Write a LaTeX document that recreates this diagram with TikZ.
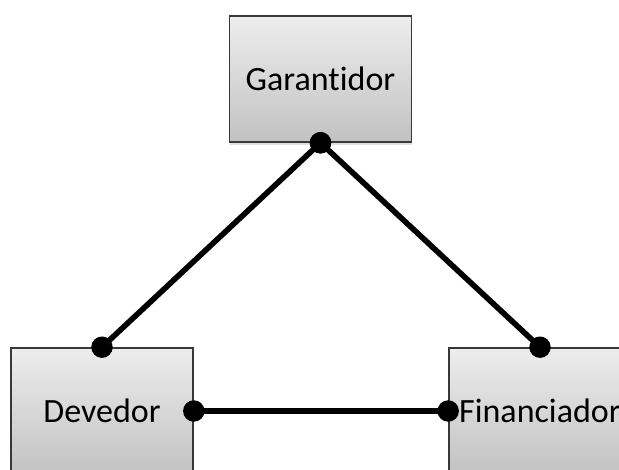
\documentclass[tikz,border=0pt]{standalone}
\usepackage{fontspec}
\setmainfont[Ligatures=NoCommon]{Carlito}
\usetikzlibrary{arrows.meta,shadows}
\definecolor{topo}{HTML}{EDEDED}
\definecolor{fundo}{HTML}{C2C2C2}
\definecolor{borda}{HTML}{383838}
\begin{document}
\begin{tikzpicture}[x=0.75pt,y=-0.75pt]
\tikzset{caixa/.style={draw=borda, line width=1.2pt, top color=topo, bottom color=fundo, minimum width=136.5pt, minimum height=94.5pt, inner sep=0pt, font=\fontsize{25.5}{30}\selectfont},
ligacao/.style={line width=4.2pt, {Circle[length=16pt]}-{Circle[length=16pt]}, shorten <=-8pt, shorten >=-8pt}}
\clip (0,0) rectangle (619,470);
\fill[white] (0,0) rectangle (619,470);
\node[caixa, drop shadow={opacity=0.25, shadow xshift=0pt, shadow yshift=-2pt}] (G) at (320.5,79) {Garantidor};
\node[caixa] (D) at (102,411) {Devedor};
\node[caixa] (F) at (540,411) {Financiador};
\draw[ligacao] (G.south) -- (D.north);
\draw[ligacao] (G.south) -- (F.north);
\draw[ligacao] (D.east) -- (F.west);
\end{tikzpicture}
\end{document}
